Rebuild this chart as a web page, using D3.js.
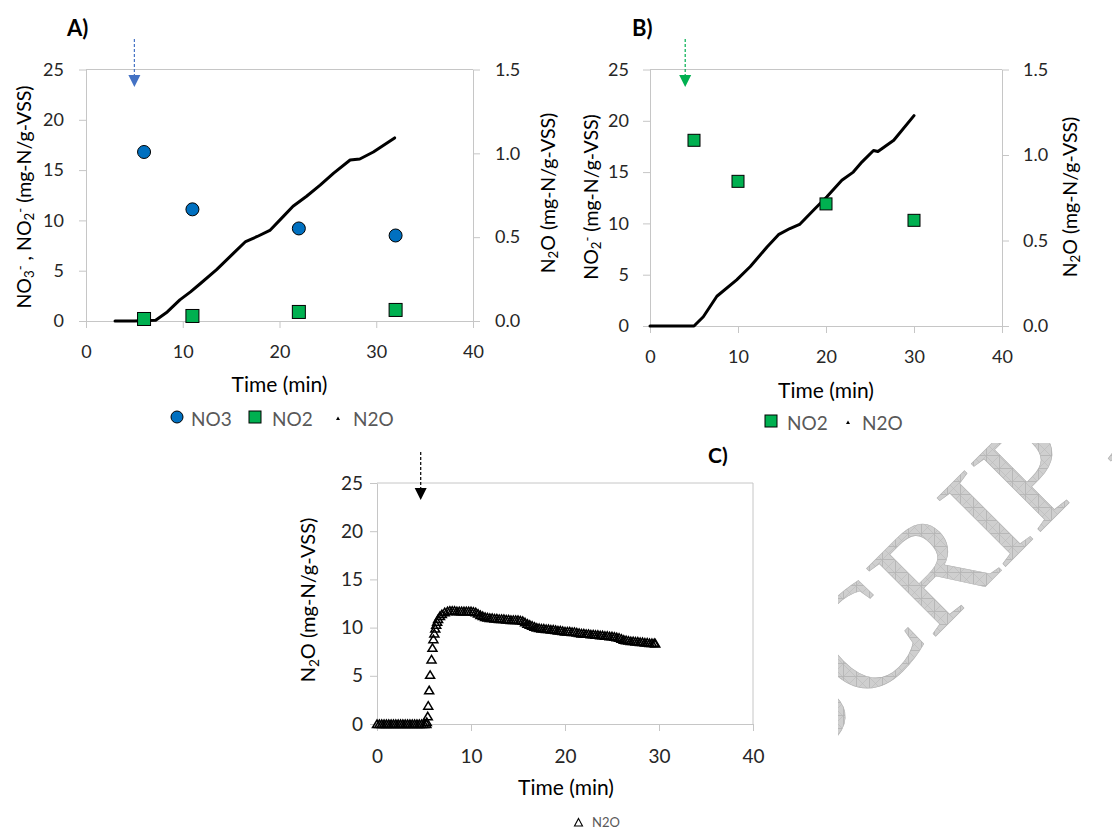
<!DOCTYPE html>
<html>
<head>
<meta charset="utf-8">
<script src="https://cdn.jsdelivr.net/npm/d3@7"></script>
<style>
  body { margin: 0; background: #fff; }
  svg { font-family: Lato, "Open Sans", sans-serif; }
  .axis path, .axis line { stroke: #c6c6c6; }
  .axis text { font-family: Lato, sans-serif; fill: #262626; }
</style>
</head>
<body>
<svg id="chart" width="1112" height="832"></svg>
<script>
var svg = d3.select('#chart');

// ---- data ----
// panel A: nitrate / nitrite grab samples (left axis), N2O online (right axis)
var aSampleTime = [6, 11, 22, 32];
var aNO3 = [16.8, 11.1, 9.2, 8.5];
var aNO2 = [0.2, 0.5, 0.9, 1.1];
var aN2oTime = [3, 5, 7.2, 8.4, 9.7, 10.8, 11.8, 13.5, 15.2, 16.5, 17.7, 19.0, 20.4, 21.4, 22.8, 24.2, 25.6, 27.3, 28.3, 29.7, 31.9];
var aN2o = [0, 0, 0.005, 0.054, 0.126, 0.174, 0.222, 0.306, 0.402, 0.474, 0.504, 0.54, 0.624, 0.684, 0.744, 0.81, 0.882, 0.96, 0.966, 1.008, 1.092];

// panel B: nitrite samples (left), N2O (right)
var bSampleTime = [5, 10, 20, 30];
var bNO2 = [18.1, 14.1, 11.9, 10.3];
var bN2oTime = [0, 5, 6.06, 7.6, 9.85, 11.4, 13.3, 14.6, 15.9, 17.0, 18.6, 20.1, 21.8, 23.1, 24.1, 25.4, 25.9, 27.7, 30.0];
var bN2o = [0, 0, 0.054, 0.174, 0.27, 0.348, 0.462, 0.534, 0.57, 0.594, 0.678, 0.756, 0.852, 0.9, 0.96, 1.026, 1.02, 1.086, 1.23];

// panel C: N2O only
var cTime = [0, 0.25, 0.5, 0.75, 1, 1.25, 1.5, 1.75, 2, 2.25, 2.5, 2.75, 3, 3.25, 3.5, 3.75, 4, 4.25, 4.5, 4.75, 5, 5.25,
  5.3, 5.4, 5.45, 5.55, 5.65, 5.8, 5.9, 6.0, 6.1, 6.2, 6.3, 6.4, 6.5, 6.7, 6.9, 7.2,
  7.5, 7.75, 8, 8.25, 8.5, 8.75, 9, 9.25, 9.5, 9.75, 10, 10.25, 10.5, 10.75, 11, 11.25, 11.5, 11.75,
  12, 12.25, 12.5, 12.75, 13, 13.25, 13.5, 13.75, 14, 14.25, 14.5, 14.75, 15, 15.25, 15.5, 15.75,
  16, 16.25, 16.5, 16.75, 17, 17.25, 17.5, 17.75, 18, 18.25, 18.5, 18.75, 19, 19.25, 19.5, 19.75,
  20, 20.25, 20.5, 20.75, 21, 21.25, 21.5, 21.75, 22, 22.25, 22.5, 22.75, 23, 23.25, 23.5, 23.75,
  24, 24.25, 24.5, 24.75, 25, 25.25, 25.5, 25.75, 26, 26.25, 26.5, 26.75, 27, 27.25, 27.5, 27.75,
  28, 28.25, 28.5, 28.75, 29, 29.25, 29.5, 29.6];
var cN2o = [0, 0, 0, 0, 0, 0, 0, 0, 0, 0, 0, 0, 0, 0, 0, 0, 0, 0, 0, 0, 0, 0,
  0.2, 0.8, 1.9, 3.5, 5.1, 6.7, 7.9, 8.8, 9.4, 9.9, 10.3, 10.6, 10.9, 11.2, 11.4, 11.6,
  11.7, 11.75, 11.75, 11.75, 11.7, 11.7, 11.7, 11.7, 11.7, 11.7, 11.7, 11.65, 11.6, 11.45, 11.3, 11.2, 11.1, 11.05,
  11.0, 11.0, 10.95, 10.95, 10.9, 10.9, 10.9, 10.85, 10.85, 10.8, 10.8, 10.8, 10.8, 10.75, 10.7, 10.55,
  10.4, 10.3, 10.2, 10.1, 10.0, 9.95, 9.9, 9.9, 9.85, 9.85, 9.8, 9.8, 9.75, 9.7, 9.7, 9.65,
  9.6, 9.6, 9.6, 9.55, 9.55, 9.5, 9.45, 9.4, 9.4, 9.35, 9.35, 9.3, 9.3, 9.25, 9.25, 9.2,
  9.2, 9.15, 9.15, 9.1, 9.1, 9.05, 9.0, 8.95, 8.85, 8.75, 8.7, 8.65, 8.6, 8.6, 8.55, 8.55,
  8.5, 8.5, 8.45, 8.45, 8.4, 8.4, 8.4, 8.35];

// time at which the substrate was dosed (dashed arrows)
var doseTime = {A: 5, B: 4, C: 4.65};

var leftTicks = [0, 5, 10, 15, 20, 25];
var rightTicks = [0, 0.5, 1.0, 1.5];
var timeTicks = [0, 10, 20, 30, 40];

var blue = '#0070c0', green = '#00b050';

// ---- watermark behind everything (only the bit outside the chart images shows) ----
var defs = svg.append('defs');
var hatch = defs.append('pattern')
    .attr('id', 'hatch')
    .attr('patternUnits', 'userSpaceOnUse')
    .attr('width', 13).attr('height', 13)
    .attr('patternTransform', 'rotate(-45)');
hatch.append('rect').attr('width', 13).attr('height', 13).attr('fill', '#cfcfcf');
hatch.append('path').attr('d', 'M0,0H13M0,0V13').attr('stroke', '#a2a2a2').attr('stroke-width', 1);
hatch.append('path').attr('d', 'M0,0L13,13M13,0L0,13').attr('stroke', '#b8b8b8').attr('stroke-width', 0.6);
defs.append('clipPath').attr('id', 'wmclip')
  .append('rect').attr('x', 838).attr('y', 443).attr('width', 274).attr('height', 389);

svg.append('g').attr('clip-path', 'url(#wmclip)')
  .append('text')
    .attr('transform', 'translate(804,768) rotate(-45)')
    .attr('font-family', '"Liberation Serif", "DejaVu Serif", serif')
    .attr('font-size', 148)
    .attr('fill', 'url(#hatch)')
    .attr('stroke', '#b0b0b0')
    .attr('stroke-width', 0.6)
    .text('SCRIPT');

// ---- helpers ----
function arrow(x, yTop, color) {
    svg.append('line')
        .attr('x1', x).attr('x2', x)
        .attr('y1', yTop).attr('y2', yTop + 38)
        .attr('stroke', color)
        .attr('stroke-width', 1.2)
        .attr('stroke-dasharray', '3,2');
    svg.append('path')
        .attr('d', 'M' + (x - 6) + ',' + (yTop + 36) + 'L' + (x + 6) + ',' + (yTop + 36) + 'L' + x + ',' + (yTop + 48) + 'Z')
        .attr('fill', color);
}

// rotated axis title with sub/superscripts; parts = [[text, 'sub'|'sup'|null], ...]
function vTitle(x, y, parts, size) {
    var t = svg.append('text')
        .attr('transform', 'translate(' + x + ',' + y + ') rotate(-90)')
        .attr('text-anchor', 'middle')
        .attr('font-size', size)
        .attr('fill', '#000');
    parts.forEach(function(p) {
        var s = t.append('tspan').text(p[0]);
        if (p[1] == 'sub') s.attr('baseline-shift', '-25%').attr('font-size', size * 0.68);
        if (p[1] == 'sup') s.attr('baseline-shift', '45%').attr('font-size', size * 0.68);
    });
}

function frame(x, y) {
    var r = x.range(), d = y.range();
    svg.append('line')
        .attr('x1', r[0]).attr('x2', r[1]).attr('y1', d[1]).attr('y2', d[1])
        .attr('stroke', '#c6c6c6');
}

function bottomAxis(x, y0, pad, size) {
    svg.append('g')
        .attr('class', 'axis')
        .attr('transform', 'translate(0,' + y0 + ')')
        .call(d3.axisBottom(x).tickValues(timeTicks).tickSize(7).tickSizeOuter(0).tickPadding(pad))
        .selectAll('text').attr('font-size', size);
}

// ---- panel A ----
var xA = d3.scaleLinear().domain([0, 40]).range([86, 473]);
var yA = d3.scaleLinear().domain([0, 25]).range([321, 69.5]);
var yA2 = d3.scaleLinear().domain([0, 1.5]).range([321, 69.5]);

frame(xA, yA);
svg.append('g').attr('class', 'axis')
    .attr('transform', 'translate(' + xA(0) + ',0)')
    .call(d3.axisLeft(yA).tickValues(leftTicks).tickSize(7).tickSizeOuter(0).tickPadding(15))
    .selectAll('text').attr('font-size', 18);
svg.append('g').attr('class', 'axis')
    .attr('transform', 'translate(' + xA(40) + ',0)')
    .call(d3.axisRight(yA2).tickValues(rightTicks).tickSize(7).tickSizeOuter(0).tickPadding(15).tickFormat(d3.format('.1f')))
    .selectAll('text').attr('font-size', 18).attr('fill', '#404040');
bottomAxis(xA, yA(0), 17, 18);

svg.append('path')
    .datum(d3.zip(aN2oTime, aN2o))
    .attr('fill', 'none')
    .attr('stroke', '#000')
    .attr('stroke-width', 3)
    .attr('stroke-linejoin', 'round')
    .attr('stroke-linecap', 'round')
    .attr('d', d3.line().x(function(d) { return xA(d[0]); }).y(function(d) { return yA2(d[1]); }));

svg.selectAll('.a-no3')
    .data(d3.zip(aSampleTime, aNO3)).enter().append('circle')
    .attr('cx', function(d) { return xA(d[0]); })
    .attr('cy', function(d) { return yA(d[1]); })
    .attr('r', 6.5)
    .attr('fill', blue).attr('stroke', '#000').attr('stroke-width', 1);
svg.selectAll('.a-no2')
    .data(d3.zip(aSampleTime, aNO2)).enter().append('rect')
    .attr('x', function(d) { return xA(d[0]) - 6.5; })
    .attr('y', function(d) { return yA(d[1]) - 6.5; })
    .attr('width', 13).attr('height', 13)
    .attr('fill', green).attr('stroke', '#000').attr('stroke-width', 1);

arrow(xA(doseTime.A), 39, '#4472c4');
svg.append('text').attr('x', 67).attr('y', 36).attr('font-size', 22).attr('font-weight', 'bold').text('A)');
svg.append('text').attr('x', 279.5).attr('y', 392).attr('text-anchor', 'middle').attr('font-size', 21).text('Time (min)');
vTitle(31, 197, [['NO'], ['3', 'sub'], ['-', 'sup'], [' , NO'], ['2', 'sub'], ['-', 'sup'], [' (mg-N/g-VSS)']], 19.5);
vTitle(555, 193, [['N'], ['2', 'sub'], ['O (mg-N/g-VSS)']], 19.5);

// legend A
var legA = svg.append('g').attr('font-size', 19).attr('fill', '#595959');
legA.append('circle').attr('cx', 177).attr('cy', 417).attr('r', 6).attr('fill', blue).attr('stroke', '#000');
legA.append('text').attr('x', 191).attr('y', 426).text('NO3');
legA.append('rect').attr('x', 249).attr('y', 411).attr('width', 12).attr('height', 12).attr('fill', green).attr('stroke', '#000');
legA.append('text').attr('x', 272).attr('y', 426).text('NO2');
legA.append('path').attr('d', 'M336,420L338,416.5L340,420Z').attr('fill', '#000');
legA.append('text').attr('x', 353).attr('y', 426).text('N2O');

// ---- panel B ----
var xB = d3.scaleLinear().domain([0, 40]).range([650, 1002]);
var yB = d3.scaleLinear().domain([0, 25]).range([326, 69.5]);
var yB2 = d3.scaleLinear().domain([0, 1.5]).range([326, 69.5]);

frame(xB, yB);
svg.append('g').attr('class', 'axis')
    .attr('transform', 'translate(' + xB(0) + ',0)')
    .call(d3.axisLeft(yB).tickValues(leftTicks).tickSize(7).tickSizeOuter(0).tickPadding(14))
    .selectAll('text').attr('font-size', 18);
svg.append('g').attr('class', 'axis')
    .attr('transform', 'translate(' + xB(40) + ',0)')
    .call(d3.axisRight(yB2).tickValues(rightTicks).tickSize(7).tickSizeOuter(0).tickPadding(14).tickFormat(d3.format('.1f')))
    .selectAll('text').attr('font-size', 18).attr('fill', '#666');
bottomAxis(xB, yB(0), 17, 18);

svg.append('path')
    .datum(d3.zip(bN2oTime, bN2o))
    .attr('fill', 'none')
    .attr('stroke', '#000')
    .attr('stroke-width', 3)
    .attr('stroke-linejoin', 'round')
    .attr('stroke-linecap', 'round')
    .attr('d', d3.line().x(function(d) { return xB(d[0]); }).y(function(d) { return yB2(d[1]); }));

svg.selectAll('.b-no2')
    .data(d3.zip(bSampleTime, bNO2)).enter().append('rect')
    .attr('x', function(d) { return xB(d[0]) - 6; })
    .attr('y', function(d) { return yB(d[1]) - 6; })
    .attr('width', 12).attr('height', 12)
    .attr('fill', green).attr('stroke', '#000').attr('stroke-width', 1);

arrow(xB(doseTime.B), 39, green);
svg.append('text').attr('x', 632).attr('y', 36).attr('font-size', 22).attr('font-weight', 'bold').text('B)');
svg.append('text').attr('x', 826).attr('y', 398).attr('text-anchor', 'middle').attr('font-size', 21).text('Time (min)');
vTitle(598, 197, [['NO'], ['2', 'sub'], ['-', 'sup'], [' (mg-N/g-VSS)']], 19.5);
vTitle(1077, 197, [['N'], ['2', 'sub'], ['O (mg-N/g-VSS)']], 19.5);

var legB = svg.append('g').attr('font-size', 19).attr('fill', '#595959');
legB.append('rect').attr('x', 765).attr('y', 415).attr('width', 12).attr('height', 12).attr('fill', green).attr('stroke', '#000');
legB.append('text').attr('x', 787).attr('y', 430).text('NO2');
legB.append('path').attr('d', 'M846,424L848,420.5L850,424Z').attr('fill', '#000');
legB.append('text').attr('x', 862).attr('y', 430).text('N2O');

// ---- panel C ----
var xC = d3.scaleLinear().domain([0, 40]).range([377, 753]);
var yC = d3.scaleLinear().domain([0, 25]).range([724, 483]);

frame(xC, yC);
svg.append('line')
    .attr('x1', xC(40)).attr('x2', xC(40)).attr('y1', yC(25)).attr('y2', yC(0))
    .attr('stroke', '#c6c6c6');
svg.append('g').attr('class', 'axis')
    .attr('transform', 'translate(' + xC(0) + ',0)')
    .call(d3.axisLeft(yC).tickValues(leftTicks).tickSize(7).tickSizeOuter(0).tickPadding(7))
    .selectAll('text').attr('font-size', 19);
bottomAxis(xC, yC(0), 19, 19);

var tri = 'M0,-4L4.5,3.5L-4.5,3.5Z';
svg.selectAll('.c-n2o')
    .data(d3.zip(cTime, cN2o)).enter().append('path')
    .attr('transform', function(d) { return 'translate(' + xC(d[0]) + ',' + yC(d[1]) + ')'; })
    .attr('d', tri)
    .attr('fill', 'none')
    .attr('stroke', '#000')
    .attr('stroke-width', 1.5);

arrow(xC(doseTime.C), 452, '#000');
svg.append('text').attr('x', 708).attr('y', 463).attr('font-size', 21).attr('font-weight', 'bold').text('C)');
svg.append('text').attr('x', 566).attr('y', 795).attr('text-anchor', 'middle').attr('font-size', 21).text('Time (min)');
vTitle(315, 600, [['N'], ['2', 'sub'], ['O (mg-N/g-VSS)']], 20);

var legC = svg.append('g').attr('font-size', 13).attr('fill', '#595959');
legC.append('path').attr('transform', 'translate(578.5,822.5)').attr('d', 'M0,-4L4,3.5L-4,3.5Z')
    .attr('fill', 'none').attr('stroke', '#000').attr('stroke-width', 1.1);
legC.append('text').attr('x', 592).attr('y', 827).text('N2O');
</script>
</body>
</html>
